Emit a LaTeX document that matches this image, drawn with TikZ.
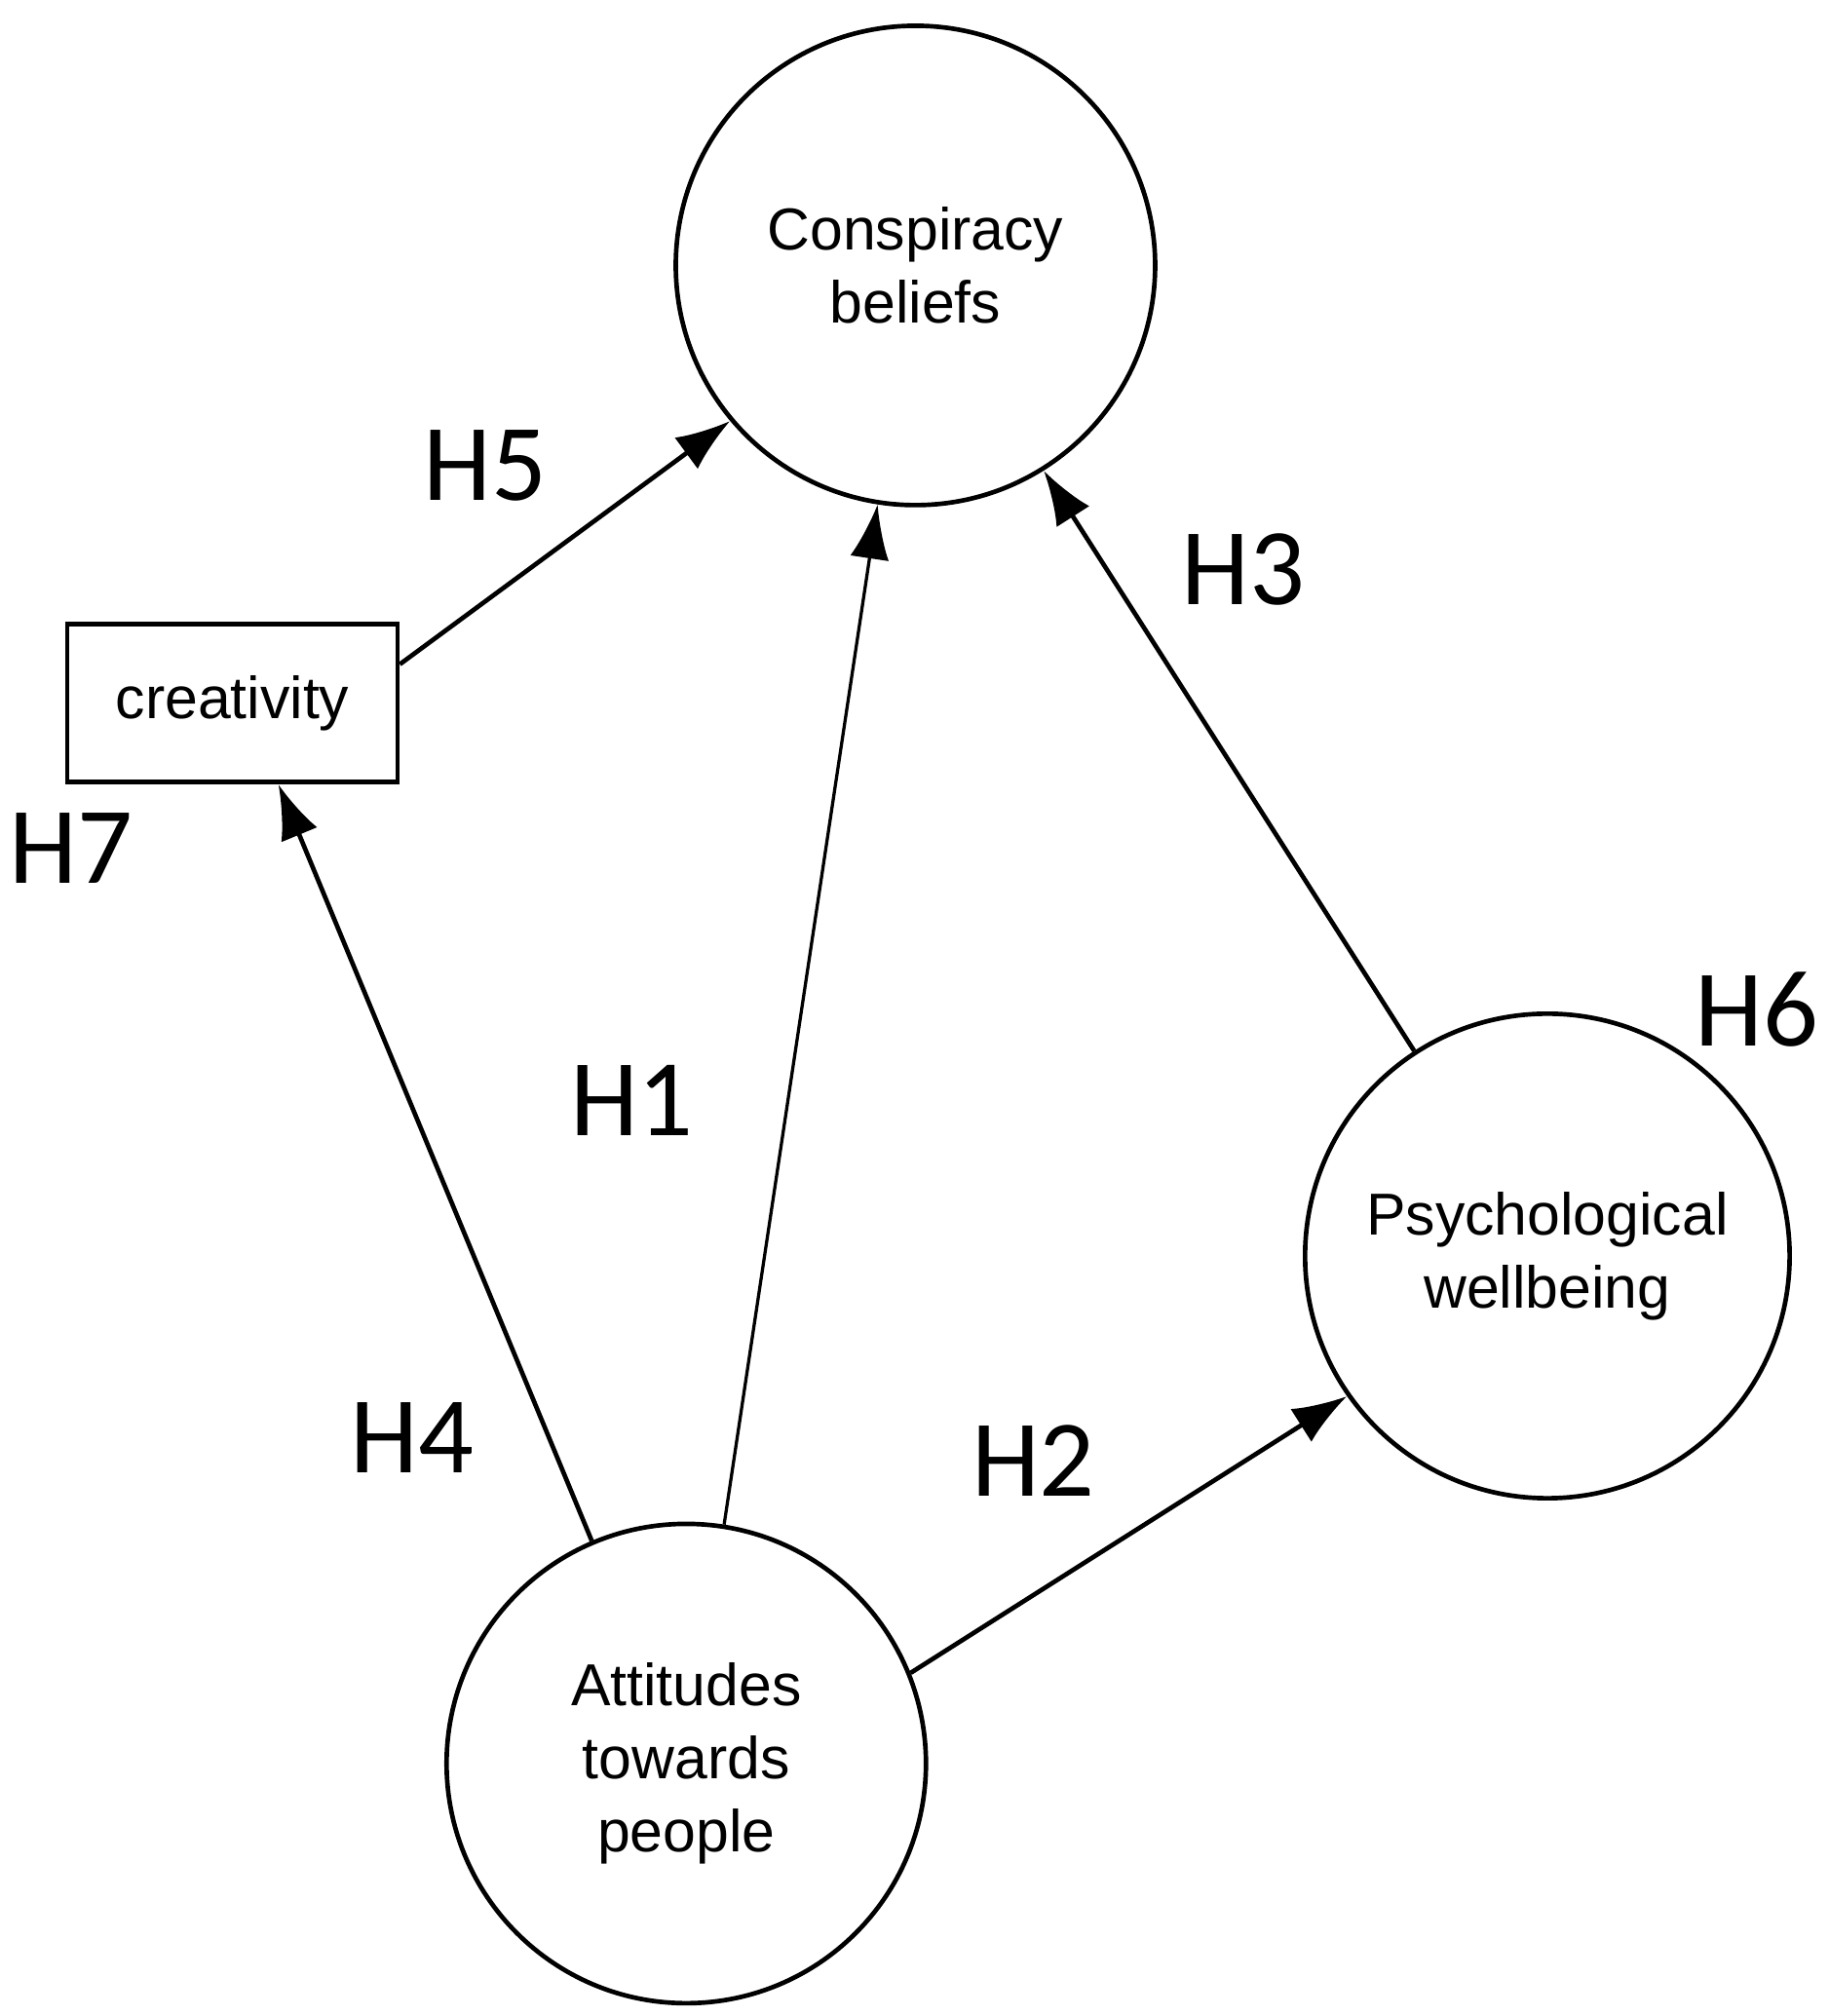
\documentclass[tikz,border=0pt]{standalone}
\usepackage{fontspec}
\setmainfont{Liberation Sans}
\newfontfamily\lab{Carlito}
\usetikzlibrary{arrows.meta}
\begin{document}
\begin{tikzpicture}[x=0.01cm,y=-0.01cm,
  circ/.style={draw,circle,line width=1pt,minimum size=3.7cm,align=center,font=\fontsize{13}{16}\selectfont},
  arr/.style={line width=1pt,-{Latex[length=0.42cm,width=0.3cm]}},
  hl/.style={font=\lab\fontsize{24}{28}\selectfont}]
\useasboundingbox (0,0) rectangle (1412,1557);
\node[circ] (con) at (707,205) {Conspiracy\\beliefs};
\node[circ,minimum size=3.74cm] (psy) at (1195,970) {Psychological\\wellbeing};
\node[circ] (att) at (530,1362) {Attitudes\\towards\\people};
\node[draw,line width=1pt,minimum width=2.55cm,minimum height=1.22cm,font=\fontsize{13}{16}\selectfont] (cre) at (179.5,543) {creativity};
\draw[arr] ([yshift=0.3cm]cre.east) -- (con.220);
\draw[arr,line width=0.7pt] (att.81) -- (con.261);
\draw[arr] (psy.123) -- (con.302);
\draw[arr] (att.113.6) -- ([xshift=0.355cm]cre.south);
\draw[arr] (att.22.7) -- (psy.215);
\node[hl] (h5) at (375,360) {H5};
\node[hl] (h1) at (488,850) {H1};
\node[hl] (h3) at (960,440) {H3};
\node[hl] (h4) at (318,1110) {H4};
\node[hl] (h2) at (798,1128) {H2};
\node[hl] (h7) at (55,655) {H7};
\node[hl] (h6) at (1357,780) {H6};
\end{tikzpicture}
\end{document}
